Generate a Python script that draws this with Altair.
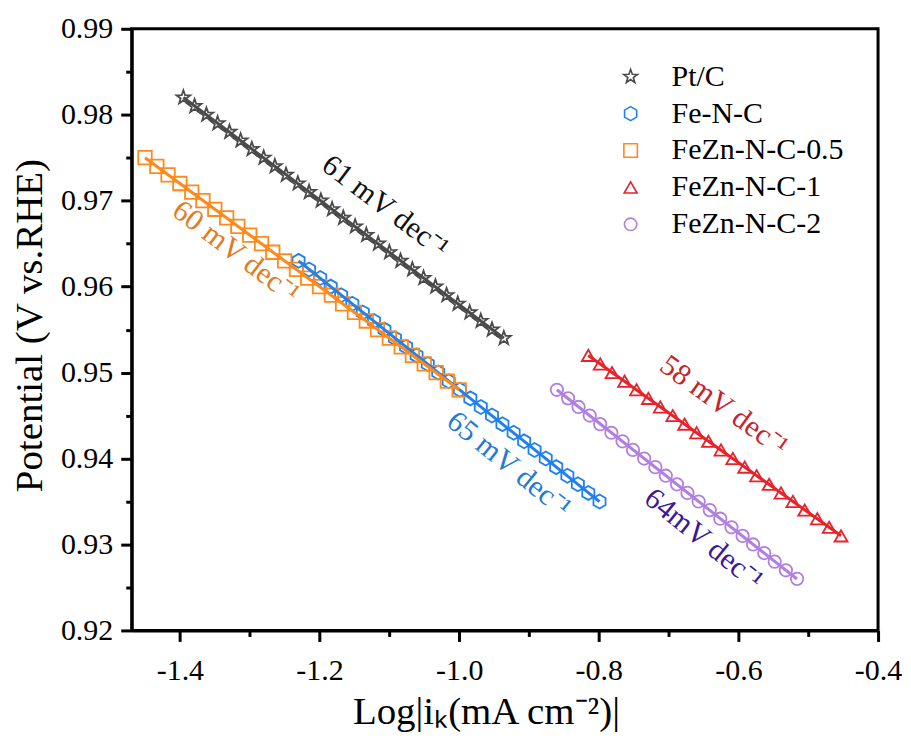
import altair as alt
import pandas as pd

series_names = ["Pt/C", "Fe-N-C", "FeZn-N-C-0.5", "FeZn-N-C-1", "FeZn-N-C-2"]

ptc_x = [-1.395, -1.379, -1.362, -1.346, -1.329, -1.313, -1.297, -1.280, -1.264, -1.248,
         -1.231, -1.215, -1.198, -1.182, -1.166, -1.149, -1.133, -1.116, -1.100, -1.084,
         -1.067, -1.051, -1.034, -1.018, -1.002, -0.985, -0.969, -0.953, -0.936]
ptc_y = [0.982, 0.981, 0.980, 0.979, 0.978, 0.977, 0.976, 0.975, 0.974, 0.973,
         0.972, 0.971, 0.970, 0.969, 0.968, 0.967, 0.966, 0.965, 0.964, 0.963,
         0.962, 0.961, 0.960, 0.959, 0.958, 0.957, 0.956, 0.955, 0.954]

fenc_x = [-1.230, -1.215, -1.199, -1.184, -1.169, -1.153, -1.138, -1.122, -1.107, -1.092,
          -1.076, -1.061, -1.045, -1.030, -1.015, -0.999, -0.984, -0.969, -0.953, -0.938,
          -0.922, -0.907, -0.892, -0.876, -0.861, -0.845, -0.830, -0.815, -0.799]
fenc_y = [0.963, 0.962, 0.961, 0.960, 0.959, 0.958, 0.957, 0.956, 0.955, 0.954,
          0.953, 0.952, 0.951, 0.950, 0.949, 0.948, 0.947, 0.946, 0.945, 0.944,
          0.943, 0.942, 0.941, 0.940, 0.939, 0.938, 0.937, 0.936, 0.935]

fezn05_x = [-1.450, -1.433, -1.417, -1.400, -1.383, -1.367, -1.350, -1.333, -1.317, -1.300,
            -1.283, -1.267, -1.250, -1.233, -1.217, -1.200, -1.183, -1.167, -1.150, -1.133,
            -1.117, -1.100, -1.083, -1.067, -1.050, -1.033, -1.017, -1.000]
fezn05_y = [0.975, 0.974, 0.973, 0.972, 0.971, 0.970, 0.969, 0.968, 0.967, 0.966,
            0.965, 0.964, 0.963, 0.962, 0.961, 0.960, 0.959, 0.958, 0.957, 0.956,
            0.955, 0.954, 0.953, 0.952, 0.951, 0.950, 0.949, 0.948]

fezn1_x = [-0.815, -0.798, -0.781, -0.763, -0.746, -0.729, -0.712, -0.694, -0.677, -0.660,
           -0.643, -0.625, -0.608, -0.591, -0.574, -0.556, -0.539, -0.522, -0.505, -0.487,
           -0.470, -0.453]
fezn1_y = [0.952, 0.951, 0.950, 0.949, 0.948, 0.947, 0.946, 0.945, 0.944, 0.943,
           0.942, 0.941, 0.940, 0.939, 0.938, 0.937, 0.936, 0.935, 0.934, 0.933,
           0.932, 0.931]

fezn2_x = [-0.860, -0.844, -0.829, -0.813, -0.798, -0.782, -0.766, -0.751, -0.735, -0.719,
           -0.704, -0.688, -0.673, -0.657, -0.641, -0.626, -0.610, -0.594, -0.579, -0.563,
           -0.548, -0.532, -0.516]
fezn2_y = [0.948, 0.947, 0.946, 0.945, 0.944, 0.943, 0.942, 0.941, 0.940, 0.939,
           0.938, 0.937, 0.936, 0.935, 0.934, 0.933, 0.932, 0.931, 0.930, 0.929,
           0.928, 0.927, 0.926]

ann_text = ["61 mV dec\u207b\u00b9", "60 mV dec\u207b\u00b9", "65 mV dec\u207b\u00b9",
            "58 mV dec\u207b\u00b9", "64mV dec\u207b\u00b9"]
ann_x = [-1.106, -1.320, -0.929, -0.621, -0.650]
ann_y = [0.9693, 0.9640, 0.9393, 0.9461, 0.9306]

x_ticks = [-1.4, -1.3, -1.2, -1.1, -1.0, -0.9, -0.8, -0.7, -0.6, -0.5, -0.4]
y_ticks = [0.92, 0.925, 0.93, 0.935, 0.94, 0.945, 0.95, 0.955, 0.96, 0.965,
           0.97, 0.975, 0.98, 0.985, 0.99]

# ---- styles ----
marker_colors = ["#4a4a4a", "#1f80ee", "#ff8a1c", "#e8222b", "#b07fe0"]
ann_colors = ["#111111", "#e07c22", "#1f7ad8", "#c8222a", "#3a179c"]
ann_angles = [37, 37, 39, 36, 39]
star = ("M0,-1L0.235,-0.324L0.951,-0.309L0.380,0.124L0.588,0.809L0,0.4"
        "L-0.588,0.809L-0.380,0.124L-0.951,-0.309L-0.235,-0.324Z")
hexagon = "M0,-1L0.866,-0.5L0.866,0.5L0,1L-0.866,0.5L-0.866,-0.5Z"
shapes = [star, hexagon, "square", "triangle-up", "circle"]
sizes = [210, 155, 125, 145, 145]
FONT = "Liberation Serif"

xs = [ptc_x, fenc_x, fezn05_x, fezn1_x, fezn2_x]
ys = [ptc_y, fenc_y, fezn05_y, fezn1_y, fezn2_y]
rows = []
for name, sx, sy in zip(series_names, xs, ys):
    for a, b in zip(sx, sy):
        rows.append({"series": name, "x": a, "y": b})
df = pd.DataFrame(rows)

x_major = "abs(round(datum.value*10) % 2) == 0"
y_major = "abs(round(datum.value*1000) % 10) == 0"

X = alt.X(
    "x:Q",
    title="Log|i\u2096(mA cm\u207b\u00b2)|",
    scale=alt.Scale(domain=[-1.469, -0.4], nice=False, zero=False),
    axis=alt.Axis(
        values=x_ticks,
        labelExpr=f"{x_major} ? ((datum.value < 0 ? '-' : '') + format(abs(datum.value), '.1f')) : ''",
        tickSize={"condition": {"test": x_major, "value": 11}, "value": 6},
        labelPadding=14,
        labelFlush=False,
        labelOverlap=False,
        titleX=355,
        titleY=81,
        titleBaseline="middle",
        titleAlign="center",
    ),
)
Y = alt.Y(
    "y:Q",
    title="Potential (V vs.RHE)",
    scale=alt.Scale(domain=[0.92, 0.99], nice=False, zero=False),
    axis=alt.Axis(
        values=y_ticks,
        labelExpr=f"{y_major} ? format(datum.value, '.2f') : ''",
        tickSize={"condition": {"test": y_major, "value": 11}, "value": 6},
        labelPadding=8,
        labelFlush=False,
        labelOverlap=False,
        titleX=-102,
        titleY=297,
        titleAngle=-90,
        titleBaseline="middle",
        titleAlign="center",
    ),
)

color_scale = alt.Scale(domain=series_names, range=marker_colors)
legend = alt.Legend(title=None, orient="none", legendX=485, legendY=33)

points = alt.Chart(df).mark_point(filled=False, strokeWidth=1.8, opacity=1).encode(
    x=X,
    y=Y,
    color=alt.Color("series:N", scale=color_scale, sort=series_names, legend=legend),
    shape=alt.Shape("series:N", scale=alt.Scale(domain=series_names, range=shapes),
                    sort=series_names, legend=legend),
    size=alt.Size("series:N", scale=alt.Scale(domain=series_names, range=sizes), legend=None),
)

lines = alt.Chart(df).transform_regression(
    "x", "y", groupby=["series"]
).mark_line(strokeWidth=3).encode(
    x=X,
    y=Y,
    color=alt.Color("series:N", scale=color_scale, legend=None),
)

texts = []
for t, ax, ay, col, ang in zip(ann_text, ann_x, ann_y, ann_colors, ann_angles):
    texts.append(
        alt.Chart(pd.DataFrame({"x": [ax], "y": [ay], "t": [t]}))
        .mark_text(font=FONT, fontSize=30, color=col, angle=ang,
                   align="center", baseline="middle")
        .encode(x=X, y=Y, text="t:N")
    )

chart = alt.layer(points, lines, *texts).properties(
    width=748,
    height=603,
    autosize=alt.AutoSizeParams(type="none"),
    padding={"left": 124, "top": 20, "right": 25, "bottom": 115},
).configure_view(
    stroke="black", strokeWidth=3
).configure_axis(
    grid=False,
    domainColor="black",
    domainWidth=3,
    tickColor="black",
    tickWidth=3,
    labelFont=FONT,
    labelFontSize=30,
    labelColor="black",
    titleFont=FONT,
    titleFontSize=39,
    titleFontWeight="normal",
    titleColor="black",
).configure_legend(
    labelFont=FONT,
    labelFontSize=30,
    labelColor="black",
    labelLimit=400,
    symbolStrokeWidth=1.6,
    symbolSize=150,
    rowPadding=7,
    labelOffset=26,
    padding=0,
)

chart.save("out.html", embed_options={"renderer": "svg", "actions": False})
